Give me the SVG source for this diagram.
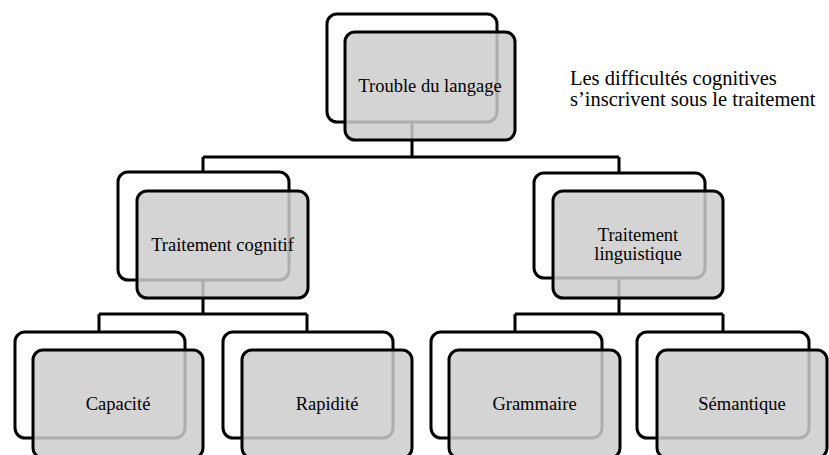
<svg xmlns="http://www.w3.org/2000/svg" width="829" height="455" viewBox="0 0 829 455">
<style>
.back{fill:#ffffff;stroke:#000;stroke-width:3}
.front{fill:#cccccc;fill-opacity:0.85;stroke:#000;stroke-width:3}
.conn{fill:none;stroke:#000;stroke-width:3}
.lbl{font-size:18.5px;fill:#000;text-anchor:middle}
.note{font-size:20.5px;fill:#000}
</style>
<rect width="829" height="455" fill="#fff"/>
<g id="connectors">
<path class="conn" d="M412,122 V157 M203,157 H619 M203,157 V172 M619,157 V173"/>
<path class="conn" d="M203,280 V314 M99,314 H307 M99,314 V332 M307,314 V332"/>
<path class="conn" d="M619,278 V314 M515,314 H723 M515,314 V332 M723,314 V332"/>
</g>
<g font-family="'Liberation Serif', 'DejaVu Serif', 'Times New Roman', serif">
<g id="n-trouble">
<rect class="back" x="327" y="14" width="170" height="108" rx="10"/>
<rect class="front" x="345" y="32" width="170" height="108" rx="10"/>
<text class="lbl" x="430" y="92">Trouble du langage</text>
</g>
<g id="n-cognitif">
<rect class="back" x="118" y="172" width="171" height="108" rx="10"/>
<rect class="front" x="137" y="191" width="171" height="107" rx="10"/>
<text class="lbl" x="222.5" y="251">Traitement cognitif</text>
</g>
<g id="n-linguistique">
<rect class="back" x="534" y="173" width="171" height="105" rx="10"/>
<rect class="front" x="553" y="191" width="170" height="107" rx="10"/>
<text class="lbl" x="638" y="241">Traitement</text>
<text class="lbl" x="638" y="260">linguistique</text>
</g>
<g id="n-capacite">
<rect class="back" x="15" y="332" width="170" height="106" rx="10"/>
<rect class="front" x="33" y="350" width="170" height="108" rx="10"/>
<text class="lbl" x="118" y="410">Capacité</text>
</g>
<g id="n-rapidite">
<rect class="back" x="223" y="332" width="170" height="106" rx="10"/>
<rect class="front" x="242" y="350" width="170" height="108" rx="10"/>
<text class="lbl" x="327" y="410">Rapidité</text>
</g>
<g id="n-grammaire">
<rect class="back" x="431" y="332" width="171" height="106" rx="10"/>
<rect class="front" x="449" y="350" width="171" height="108" rx="10"/>
<text class="lbl" x="534.5" y="410">Grammaire</text>
</g>
<g id="n-semantique">
<rect class="back" x="637" y="332" width="172" height="106" rx="10"/>
<rect class="front" x="657" y="350" width="170" height="108" rx="10"/>
<text class="lbl" x="742" y="410">Sémantique</text>
</g>
<g id="note">
<text class="note" x="570" y="85">Les difficultés cognitives</text>
<text class="note" x="570" y="106">s’inscrivent sous le traitement</text>
</g>
</g>
</svg>
